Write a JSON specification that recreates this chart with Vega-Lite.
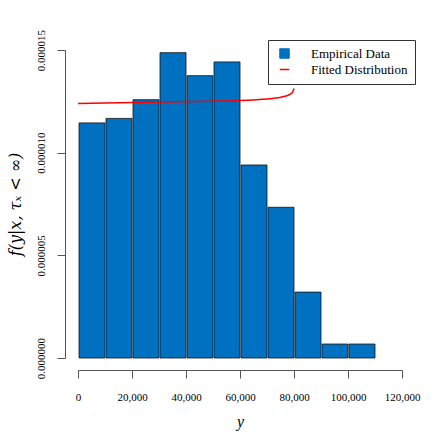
{
  "$schema": "https://vega.github.io/schema/vega-lite/v6.json",
  "width": 324,
  "height": 308,
  "autosize": "none",
  "padding": {"left": 78, "top": 50, "right": 34, "bottom": 78},
  "background": "white",
  "datasets": {
    "bins": [
      {"lo": 0, "hi": 10000, "density": 0.00001145, "series": "Empirical Data"},
      {"lo": 10000, "hi": 20000, "density": 0.00001167, "series": "Empirical Data"},
      {"lo": 20000, "hi": 30000, "density": 0.00001258, "series": "Empirical Data"},
      {"lo": 30000, "hi": 40000, "density": 0.00001487, "series": "Empirical Data"},
      {"lo": 40000, "hi": 50000, "density": 0.00001375, "series": "Empirical Data"},
      {"lo": 50000, "hi": 60000, "density": 0.00001442, "series": "Empirical Data"},
      {"lo": 60000, "hi": 70000, "density": 0.0000094, "series": "Empirical Data"},
      {"lo": 70000, "hi": 80000, "density": 0.00000734, "series": "Empirical Data"},
      {"lo": 80000, "hi": 90000, "density": 0.00000321, "series": "Empirical Data"},
      {"lo": 90000, "hi": 100000, "density": 0.00000068, "series": "Empirical Data"},
      {"lo": 100000, "hi": 110000, "density": 0.00000068, "series": "Empirical Data"}
    ],
    "fit": [
      {"y": 0, "density": 0.00001239, "series": "Fitted Distribution"},
      {"y": 10000, "density": 0.00001242, "series": "Fitted Distribution"},
      {"y": 20000, "density": 0.00001244, "series": "Fitted Distribution"},
      {"y": 30000, "density": 0.00001247, "series": "Fitted Distribution"},
      {"y": 40000, "density": 0.00001249, "series": "Fitted Distribution"},
      {"y": 50000, "density": 0.00001251, "series": "Fitted Distribution"},
      {"y": 60000, "density": 0.00001254, "series": "Fitted Distribution"},
      {"y": 65000, "density": 0.00001257, "series": "Fitted Distribution"},
      {"y": 70000, "density": 0.00001261, "series": "Fitted Distribution"},
      {"y": 74000, "density": 0.00001267, "series": "Fitted Distribution"},
      {"y": 77000, "density": 0.00001276, "series": "Fitted Distribution"},
      {"y": 78500, "density": 0.00001284, "series": "Fitted Distribution"},
      {"y": 79500, "density": 0.00001295, "series": "Fitted Distribution"},
      {"y": 80000, "density": 0.00001312, "series": "Fitted Distribution"}
    ]
  },
  "encoding": {
    "color": {
      "field": "series",
      "type": "nominal",
      "scale": {
        "domain": ["Empirical Data", "Fitted Distribution"],
        "range": ["#0070C0", "#FF0000"]
      },
      "legend": {
        "title": null,
        "orient": "none",
        "legendX": 190,
        "legendY": -10,
        "strokeColor": "#333333",
        "padding": 7,
        "labelFont": "Liberation Serif",
        "labelFontSize": 13,
        "labelColor": "black",
        "labelOffset": 20,
        "rowPadding": 2,
        "symbolSize": 90,
        "symbolOffset": 3,
        "encode": {
          "symbols": {
            "update": {
              "shape": {"signal": "datum.value == 'Fitted Distribution' ? 'stroke' : 'square'"},
              "fill": {"signal": "datum.value == 'Fitted Distribution' ? 'transparent' : '#0070C0'"},
              "stroke": {"signal": "datum.value == 'Fitted Distribution' ? '#FF0000' : '#111111'"},
              "strokeWidth": {"signal": "datum.value == 'Fitted Distribution' ? 1.5 : 1"},
              "opacity": {"value": 1}
            }
          }
        }
      }
    }
  },
  "layer": [
    {
      "data": {"name": "bins"},
      "mark": {"type": "bar", "stroke": "#111111", "strokeWidth": 0.8, "opacity": 1},
      "encoding": {
        "x": {
          "field": "lo",
          "type": "quantitative",
          "bin": "binned",
          "scale": {"domain": [0, 120000], "nice": false},
          "title": "y",
          "axis": {
            "values": [0, 20000, 40000, 60000, 80000, 100000, 120000],
            "format": ",.0f",
            "grid": false,
            "offset": 12,
            "tickSize": 8,
            "labelFlush": false,
            "labelOverlap": false,
            "labelPadding": 13,
            "labelFont": "Liberation Serif",
            "labelFontSize": 11,
            "labelColor": "black",
            "domainColor": "#555555",
            "tickColor": "#555555",
            "titleFont": "Liberation Serif",
            "titleFontStyle": "italic",
            "titleFontWeight": "normal",
            "titleFontSize": 16,
            "titleColor": "black",
            "titlePadding": 11
          }
        },
        "x2": {"field": "hi"},
        "y": {
          "field": "density",
          "type": "quantitative",
          "scale": {"domain": [0, 0.000015], "nice": false},
          "title": "f(y|x, τₓ < ∞)",
          "axis": {
            "values": [0, 0.000005, 0.00001, 0.000015],
            "format": ".6f",
            "grid": false,
            "offset": 13,
            "tickSize": 8,
            "labelAngle": -90,
            "labelAlign": "center",
            "labelBaseline": "bottom",
            "labelFlush": false,
            "labelOverlap": false,
            "labelPadding": 11,
            "labelFont": "Liberation Serif",
            "labelFontSize": 11,
            "labelColor": "black",
            "domainColor": "#555555",
            "tickColor": "#555555",
            "titleFont": "DejaVu Serif",
            "titleFontStyle": "italic",
            "titleFontWeight": "normal",
            "titleFontSize": 16,
            "titleColor": "black",
            "titlePadding": 12
          }
        }
      }
    },
    {
      "data": {"name": "fit"},
      "mark": {"type": "line", "strokeWidth": 1.5, "interpolate": "monotone"},
      "encoding": {
        "x": {"field": "y", "type": "quantitative"},
        "y": {"field": "density", "type": "quantitative"}
      }
    }
  ],
  "config": {
    "view": {"stroke": null}
  }
}
